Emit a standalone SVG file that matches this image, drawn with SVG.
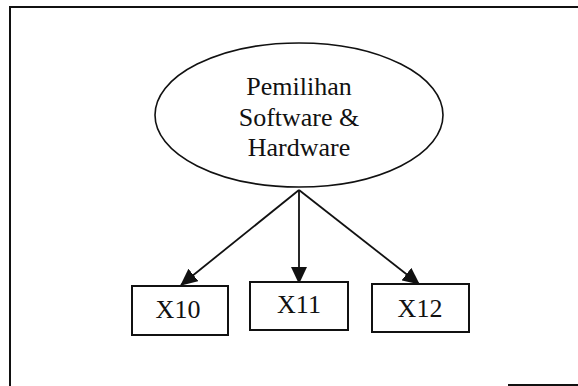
<svg xmlns="http://www.w3.org/2000/svg" width="578" height="386" viewBox="0 0 578 386">
<style>
.t{font-family:"Liberation Serif","Times New Roman",serif;font-size:26px;fill:#111;text-anchor:middle}
.box{fill:#fff;stroke:#111;stroke-width:2}
.ed{stroke:#111;stroke-width:1.8;fill:none}
.fr{stroke:#111;stroke-width:2;fill:none}
</style>
<defs>
<marker id="ah" markerWidth="17" markerHeight="16" refX="16" refY="8" orient="auto" markerUnits="userSpaceOnUse" viewBox="0 0 17 16">
<path d="M0,0 L17,8 L0,16 Z" fill="#111"/>
</marker>
</defs>
<rect width="578" height="386" fill="#fff"/>
<g id="frame">
<path class="fr" d="M10,386 V7 H578"/>
<path class="fr" d="M508,385 H578"/>
</g>
<g id="root">
<ellipse cx="299" cy="115" rx="144" ry="72" fill="#fff" stroke="#111" stroke-width="1.6"/>
<text class="t" x="299" y="95">Pemilihan</text>
<text class="t" x="299" y="126">Software &amp;</text>
<text class="t" x="299" y="156">Hardware</text>
</g>
<g id="connectors">
<line class="ed" x1="299" y1="190" x2="181" y2="285" marker-end="url(#ah)"/>
<line class="ed" x1="299" y1="190" x2="299" y2="283" marker-end="url(#ah)"/>
<line class="ed" x1="299" y1="190" x2="419" y2="284" marker-end="url(#ah)"/>
</g>
<g id="x10">
<rect class="box" x="132" y="286" width="96" height="49"/>
<text class="t" x="178" y="318">X10</text>
</g>
<g id="x11">
<rect class="box" x="250" y="282" width="98" height="48"/>
<text class="t" x="299" y="313">X11</text>
</g>
<g id="x12">
<rect class="box" x="372" y="284" width="97" height="48"/>
<text class="t" x="420" y="317">X12</text>
</g>
</svg>
